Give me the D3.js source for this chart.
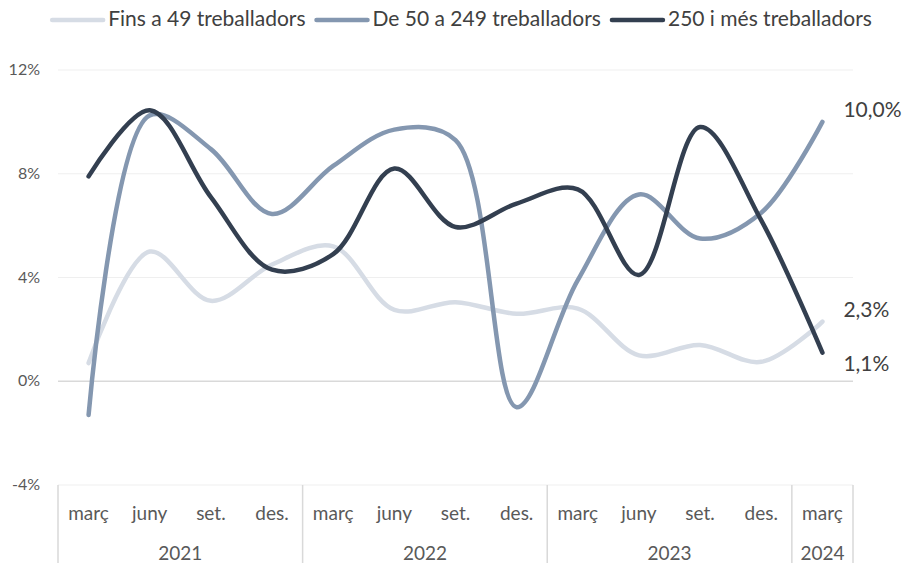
<!DOCTYPE html>
<meta charset="utf-8" />
<script src="https://d3js.org/d3.v7.min.js"></script>
<style>
  body { margin: 0; background: #fff; }
  text { font-family: Lato, "Open Sans", sans-serif; }
</style>
<body>
  <div id="chart"></div>
  <script>
    // data
    const months = ["març", "juny", "set.", "des.", "març", "juny", "set.", "des.", "març", "juny", "set.", "des.", "març"];
    const years = [
      { year: "2021", start: 0, end: 4 },
      { year: "2022", start: 4, end: 8 },
      { year: "2023", start: 8, end: 12 },
      { year: "2024", start: 12, end: 13 },
    ];
    const seriesNames = ["Fins a 49 treballadors", "De 50 a 249 treballadors", "250 i més treballadors"];
    const small = [0.7, 5.0, 3.1, 4.5, 5.2, 2.75, 3.05, 2.6, 2.8, 1.0, 1.4, 0.75, 2.3];
    const medium = [-1.3, 10.25, 8.95, 6.45, 8.3, 9.7, 9.3, -1.0, 3.9, 7.2, 5.5, 6.5, 10.0];
    const large = [7.9, 10.45, 7.1, 4.3, 4.9, 8.2, 5.95, 6.85, 7.4, 4.1, 9.8, 6.2, 1.1];
    const yTicks = [-4, 0, 4, 8, 12];
    const endLabels = ["2,3%", "10,0%", "1,1%"];

    const colors = ["#d6dce5", "#8497b0", "#333f50"];
    const labelDy = [-10, -10, 13];

    const W = 906, H = 563;
    const mLeft = 58, mRight = 853, mTop = 70, mBottom = 485;

    const svg = d3.select("#chart").append("svg").attr("width", W).attr("height", H);

    const x = d3.scaleBand().domain(d3.range(months.length)).range([mLeft, mRight]);
    const cx = (i) => x(i) + x.bandwidth() / 2;
    const y = d3.scaleLinear().domain([-4, 12]).range([mBottom, mTop]);

    // gridlines
    svg.append("g")
      .selectAll("line")
      .data(yTicks)
      .enter()
      .append("line")
      .attr("x1", mLeft)
      .attr("x2", mRight)
      .attr("y1", (d) => y(d))
      .attr("y2", (d) => y(d))
      .attr("stroke", (d) => (d === 0 ? "#d9d9d9" : "#efefef"))
      .attr("stroke-width", (d) => (d === 0 ? 1.5 : 1));

    // y tick labels
    svg.append("g")
      .selectAll("text")
      .data(yTicks)
      .enter()
      .append("text")
      .attr("x", 40)
      .attr("y", (d) => y(d) + 1)
      .attr("text-anchor", "end")
      .attr("dominant-baseline", "middle")
      .attr("font-size", "16px")
      .attr("fill", "#595959")
      .text((d) => d + "%");

    // category axis: year separators
    const seps = [0, ...years.map((d) => d.end)];
    svg.append("g")
      .selectAll("line")
      .data(seps)
      .enter()
      .append("line")
      .attr("x1", (d) => (d < months.length ? x(d) : mRight))
      .attr("x2", (d) => (d < months.length ? x(d) : mRight))
      .attr("y1", mBottom)
      .attr("y2", H)
      .attr("stroke", "#d9d9d9")
      .attr("stroke-width", 1.5);

    svg.append("g")
      .selectAll("text")
      .data(months)
      .enter()
      .append("text")
      .attr("x", (d, i) => cx(i))
      .attr("y", 520)
      .attr("text-anchor", "middle")
      .attr("font-size", "19px")
      .attr("fill", "#595959")
      .text((d) => d);

    svg.append("g")
      .selectAll("text")
      .data(years)
      .enter()
      .append("text")
      .attr("x", (d) => (x(d.start) + (d.end < months.length ? x(d.end) : mRight)) / 2)
      .attr("y", 560)
      .attr("text-anchor", "middle")
      .attr("font-size", "19px")
      .attr("fill", "#595959")
      .text((d) => d.year);

    // lines
    const line = d3.line()
      .x((d, i) => cx(i))
      .y((d) => y(d))
      .curve(d3.curveCatmullRom.alpha(0.5));

    const allSeries = [small, medium, large];
    svg.append("g")
      .selectAll("path")
      .data(allSeries)
      .enter()
      .append("path")
      .attr("d", (d) => line(d))
      .attr("fill", "none")
      .attr("stroke", (d, i) => colors[i])
      .attr("stroke-width", 4.5)
      .attr("stroke-linecap", "round")
      .attr("stroke-linejoin", "round");

    // end labels
    const last = months.length - 1;
    svg.append("g")
      .selectAll("text")
      .data(allSeries)
      .enter()
      .append("text")
      .attr("x", cx(last) + 21)
      .attr("y", (d, i) => y(d[last]) + labelDy[i])
      .attr("dominant-baseline", "middle")
      .attr("font-size", "21px")
      .attr("fill", "#404040")
      .text((d, i) => endLabels[i]);

    // legend
    const legend = svg.append("g");
    let lx = 0;
    seriesNames.forEach((name, i) => {
      const g = legend.append("g").attr("transform", `translate(${lx},0)`);
      g.append("line")
        .attr("x1", 2).attr("x2", 53)
        .attr("y1", 20).attr("y2", 20)
        .attr("stroke", colors[i])
        .attr("stroke-width", 4.5)
        .attr("stroke-linecap", "round");
      const t = g.append("text")
        .attr("x", 58)
        .attr("y", 21)
        .attr("dominant-baseline", "middle")
        .attr("font-size", "21px")
        .attr("fill", "#404040")
        .text(name);
      lx += 58 + t.node().getComputedTextLength() + 9;
    });
    legend.attr("transform", `translate(${461 - (lx - 9) / 2},0)`);
  </script>
</body>
